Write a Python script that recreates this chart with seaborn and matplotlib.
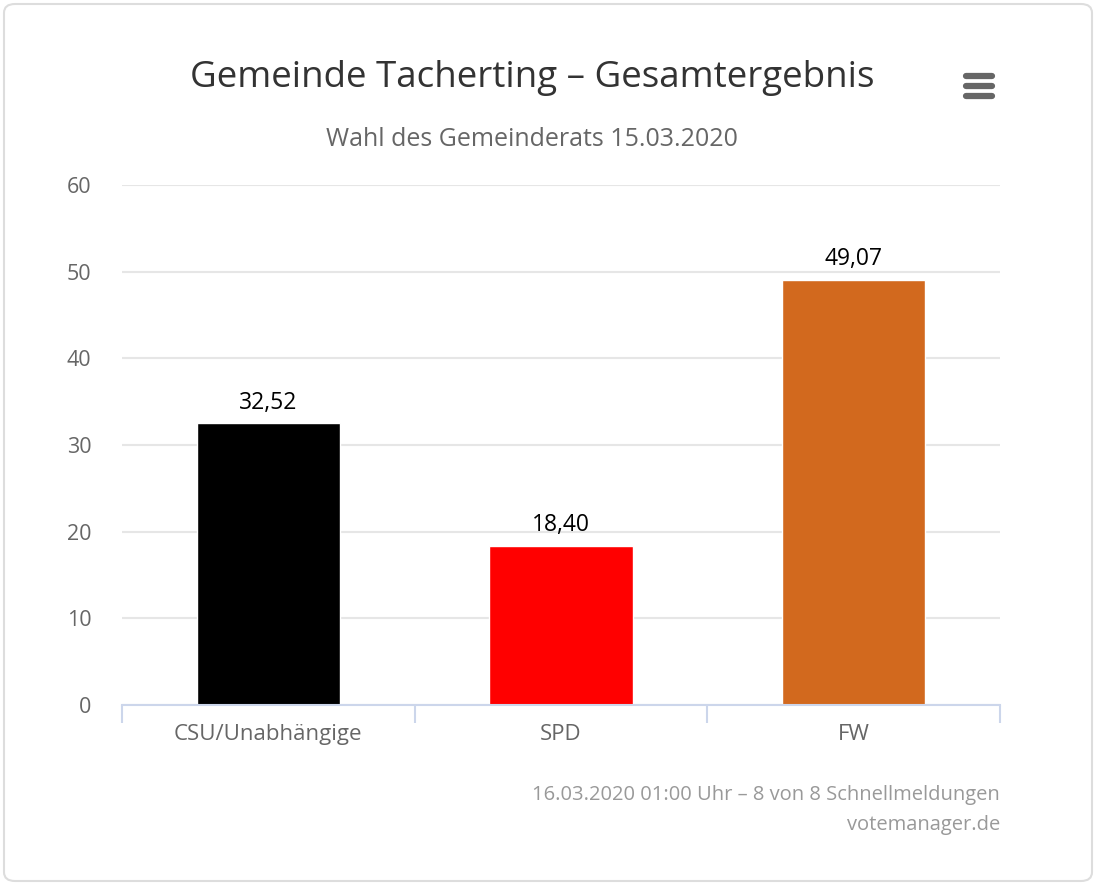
import matplotlib
matplotlib.use("Agg")
import matplotlib.pyplot as plt
from matplotlib.patches import FancyBboxPatch
from matplotlib.lines import Line2D
import seaborn as sns
import pandas as pd

parties = ["CSU/Unabhängige", "SPD", "FW"]
values = [32.52, 18.40, 49.07]
colors = ["#000000", "#ff0000", "#d2691e"]
value_labels = ["32,52", "18,40", "49,07"]
yticks = [0, 10, 20, 30, 40, 50, 60]
title = "Gemeinde Tacherting – Gesamtergebnis"
subtitle = "Wahl des Gemeinderats 15.03.2020"
credit1 = "16.03.2020 01:00 Uhr – 8 von 8 Schnellmeldungen"
credit2 = "votemanager.de"

sns.set_theme(style="white")
plt.rcParams["font.family"] = ["Open Sans", "DejaVu Sans"]

W, H = 1097, 885
fig = plt.figure(figsize=(W / 100, H / 100), dpi=100)
ax = fig.add_axes([122 / W, 1 - 705 / H, (1000 - 122) / W, (705 - 185) / H])

df = pd.DataFrame({"party": parties, "value": values})
sns.barplot(data=df, x="party", y="value", hue="party", palette=colors,
            width=0.49, legend=False, ax=ax, saturation=1)

ax.set_xlim(-0.5, 2.5)
ax.set_ylim(0, 60)
ax.set_yticks(yticks)
ax.set_yticklabels([str(t) for t in yticks], color="#666666", fontsize=15.5)
ax.grid(axis="y", color="#e6e6e6", linewidth=1.5)
ax.set_axisbelow(True)
for s in ["top", "right", "left"]:
    ax.spines[s].set_visible(False)
ax.spines["bottom"].set_color("#ccd6eb")
ax.spines["bottom"].set_linewidth(1.5)
ax.tick_params(axis="y", length=0, pad=22)
ax.tick_params(axis="x", length=0, pad=14, labelsize=16, labelcolor="#666666")
ax.set_xlabel("")
ax.set_ylabel("")

# category boundary ticks
ax.set_xticks([-0.5, 0.5, 1.5, 2.5], minor=True)
ax.tick_params(axis="x", which="minor", bottom=True, length=13, width=1.5,
               color="#ccd6eb", direction="out")

for cont, lab in zip(ax.containers, value_labels):
    ax.bar_label(cont, labels=[lab], padding=6, fontsize=16.5, color="#000000")

fig.text(532 / W, 1 - 78 / H, title, ha="center", va="center", fontsize=26.5, color="#333333")
fig.text(532 / W, 1 - 139 / H, subtitle, ha="center", va="center", fontsize=18, color="#666666")
fig.text(1000 / W, 1 - 795 / H, credit1, ha="right", va="center", fontsize=14.5, color="#999999")
fig.text(1000 / W, 1 - 825 / H, credit2, ha="right", va="center", fontsize=14.5, color="#999999")

# hamburger menu
for yy in [76, 86, 96]:
    fig.add_artist(Line2D([966 / W, 992 / W], [1 - yy / H, 1 - yy / H], color="#666666",
                          linewidth=4.5, solid_capstyle="round", transform=fig.transFigure))

# card border
fig.add_artist(FancyBboxPatch((4 / W, 4 / H), (W - 9) / W, (H - 8) / H,
                              boxstyle="round,pad=0,rounding_size=0.01",
                              transform=fig.transFigure, facecolor="none",
                              edgecolor="#dddddd", linewidth=1.5))

fig.savefig("out.png", dpi=100)
